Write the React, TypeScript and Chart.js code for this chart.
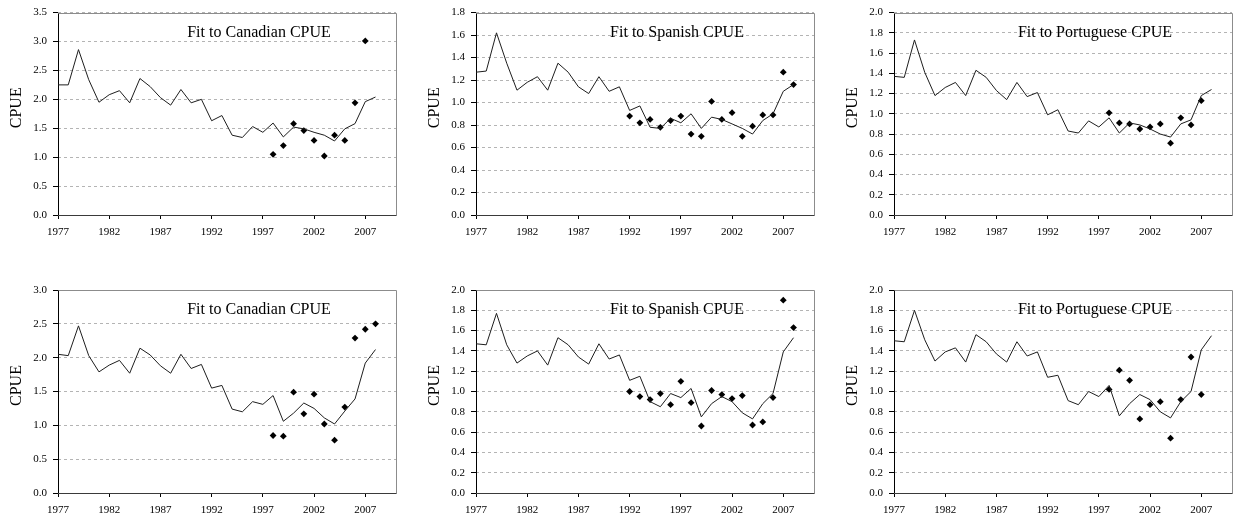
import React, { useEffect, useRef } from 'react';
import { Chart, registerables } from 'chart.js';

Chart.register(...registerables);

// ---- data ----
const fitYears = [1977, 1978, 1979, 1980, 1981, 1982, 1983, 1984, 1985, 1986, 1987, 1988, 1989, 1990, 1991, 1992,
  1993, 1994, 1995, 1996, 1997, 1998, 1999, 2000, 2001, 2002, 2003, 2004, 2005, 2006, 2007, 2008];

const xTickYears = [1977, 1982, 1987, 1992, 1997, 2002, 2007];

// Top row
const canFitA = [2.25, 2.25, 2.86, 2.34, 1.95, 2.08, 2.15, 1.94, 2.36, 2.22, 2.03, 1.90, 2.17, 1.94, 2.00, 1.63,
  1.72, 1.38, 1.34, 1.53, 1.43, 1.59, 1.35, 1.52, 1.49, 1.43, 1.38, 1.28, 1.49, 1.58, 1.96, 2.04];
const canObsYearsA = [1998, 1999, 2000, 2001, 2002, 2003, 2004, 2005, 2006, 2007];
const canObsA = [1.05, 1.20, 1.58, 1.46, 1.29, 1.02, 1.38, 1.29, 1.94, 3.01];

const spaFitA = [1.27, 1.28, 1.62, 1.35, 1.11, 1.18, 1.23, 1.11, 1.35, 1.27, 1.14, 1.08, 1.23, 1.10, 1.14, 0.93,
  0.97, 0.78, 0.77, 0.86, 0.82, 0.90, 0.77, 0.87, 0.85, 0.81, 0.77, 0.72, 0.84, 0.90, 1.10, 1.16];
const spaObsYearsA = [1992, 1993, 1994, 1995, 1996, 1997, 1998, 1999, 2000, 2001, 2002, 2003, 2004, 2005, 2006, 2007, 2008];
const spaObsA = [0.88, 0.82, 0.85, 0.78, 0.84, 0.88, 0.72, 0.70, 1.01, 0.85, 0.91, 0.70, 0.79, 0.89, 0.89, 1.27, 1.16];

const porFitA = [1.37, 1.36, 1.73, 1.41, 1.18, 1.26, 1.31, 1.18, 1.43, 1.36, 1.23, 1.14, 1.31, 1.17, 1.21, 0.99,
  1.04, 0.83, 0.81, 0.93, 0.87, 0.96, 0.81, 0.91, 0.89, 0.85, 0.80, 0.77, 0.90, 0.94, 1.18, 1.24];
const porObsYearsA = [1998, 1999, 2000, 2001, 2002, 2003, 2004, 2005, 2006, 2007];
const porObsA = [1.01, 0.91, 0.90, 0.85, 0.87, 0.90, 0.71, 0.96, 0.89, 1.13];

// Bottom row
const canFitB = [2.05, 2.03, 2.47, 2.03, 1.79, 1.89, 1.96, 1.77, 2.14, 2.04, 1.88, 1.77, 2.05, 1.84, 1.90, 1.55,
  1.59, 1.24, 1.20, 1.35, 1.31, 1.44, 1.06, 1.18, 1.33, 1.25, 1.11, 1.02, 1.21, 1.39, 1.92, 2.12];
const canObsYearsB = [1998, 1999, 2000, 2001, 2002, 2003, 2004, 2005, 2006, 2007, 2008];
const canObsB = [0.85, 0.84, 1.49, 1.17, 1.46, 1.02, 0.78, 1.27, 2.29, 2.42, 2.50];

const spaFitB = [1.47, 1.46, 1.77, 1.46, 1.28, 1.35, 1.40, 1.26, 1.53, 1.46, 1.34, 1.27, 1.47, 1.32, 1.36, 1.11,
  1.15, 0.90, 0.85, 0.98, 0.94, 1.03, 0.75, 0.88, 0.95, 0.90, 0.79, 0.73, 0.88, 0.98, 1.39, 1.53];
const spaObsYearsB = [1992, 1993, 1994, 1995, 1996, 1997, 1998, 1999, 2000, 2001, 2002, 2003, 2004, 2005, 2006, 2007, 2008];
const spaObsB = [1.00, 0.95, 0.92, 0.98, 0.87, 1.10, 0.89, 0.66, 1.01, 0.97, 0.93, 0.96, 0.67, 0.70, 0.94, 1.90, 1.63];

const porFitB = [1.50, 1.49, 1.80, 1.51, 1.30, 1.39, 1.43, 1.29, 1.56, 1.49, 1.37, 1.29, 1.49, 1.35, 1.39, 1.14,
  1.16, 0.91, 0.87, 1.00, 0.95, 1.06, 0.76, 0.88, 0.97, 0.92, 0.80, 0.74, 0.90, 1.00, 1.41, 1.55];
const porObsYearsB = [1998, 1999, 2000, 2001, 2002, 2003, 2004, 2005, 2006, 2007];
const porObsB = [1.02, 1.21, 1.11, 0.73, 0.87, 0.90, 0.54, 0.92, 1.34, 0.97];

const titles = ['Fit to Canadian CPUE', 'Fit to Spanish CPUE', 'Fit to Portuguese CPUE'];
const yAxisTitle = 'CPUE';

type Panel = {
  title: string;
  fit: number[];
  obsYears: number[];
  obs: number[];
  yMax: number;
  yStep: number;
  left: number;
  top: number;
  width: number;
  height: number;
  padTop: number;
  padRight: number;
  xAxisH: number;
};

const panels: Panel[] = [
  { title: titles[0], fit: canFitA, obsYears: canObsYearsA, obs: canObsA, yMax: 3.5, yStep: 0.5,
    left: 0, top: 0, width: 418, height: 262, padTop: 12, padRight: 22, xAxisH: 47 },
  { title: titles[1], fit: spaFitA, obsYears: spaObsYearsA, obs: spaObsA, yMax: 1.8, yStep: 0.2,
    left: 418, top: 0, width: 418, height: 262, padTop: 12, padRight: 22, xAxisH: 47 },
  { title: titles[2], fit: porFitA, obsYears: porObsYearsA, obs: porObsA, yMax: 2.0, yStep: 0.2,
    left: 836, top: 0, width: 408, height: 262, padTop: 12, padRight: 12, xAxisH: 47 },
  { title: titles[0], fit: canFitB, obsYears: canObsYearsB, obs: canObsB, yMax: 3.0, yStep: 0.5,
    left: 0, top: 262, width: 418, height: 263, padTop: 28, padRight: 22, xAxisH: 32 },
  { title: titles[1], fit: spaFitB, obsYears: spaObsYearsB, obs: spaObsB, yMax: 2.0, yStep: 0.2,
    left: 418, top: 262, width: 418, height: 263, padTop: 28, padRight: 22, xAxisH: 32 },
  { title: titles[2], fit: porFitB, obsYears: porObsYearsB, obs: porObsB, yMax: 2.0, yStep: 0.2,
    left: 836, top: 262, width: 408, height: 263, padTop: 28, padRight: 12, xAxisH: 32 },
];

const SERIF = "'Liberation Serif', 'Times New Roman', serif";

function PanelChart({ p }: { p: Panel }) {
  const ref = useRef<HTMLCanvasElement | null>(null);
  useEffect(() => {
    if (!ref.current) return;
    const framePlugin = {
      id: 'frame',
      beforeDatasetsDraw(chart: any) {
        const { ctx, chartArea: a } = chart;
        ctx.save();
        ctx.setLineDash([]);
        ctx.lineWidth = 1;
        ctx.strokeStyle = '#8c8c8c';
        ctx.beginPath();
        ctx.moveTo(Math.round(a.left) + 0.5, Math.round(a.top) + 0.5);
        ctx.lineTo(Math.round(a.right) + 0.5, Math.round(a.top) + 0.5);
        ctx.lineTo(Math.round(a.right) + 0.5, Math.round(a.bottom) + 0.5);
        ctx.stroke();
        ctx.strokeStyle = '#000';
        ctx.beginPath();
        ctx.moveTo(Math.round(a.left) + 0.5, Math.round(a.top) + 0.5);
        ctx.lineTo(Math.round(a.left) + 0.5, Math.round(a.bottom) + 0.5);
        ctx.stroke();
        ctx.strokeStyle = '#3a3a3a';
        ctx.beginPath();
        ctx.moveTo(Math.round(a.left) + 0.5, Math.round(a.bottom) + 0.5);
        ctx.lineTo(Math.round(a.right) + 0.5, Math.round(a.bottom) + 0.5);
        ctx.stroke();
        ctx.restore();
      },
      afterDraw(chart: any) {
        const { ctx, chartArea: a } = chart;
        ctx.save();
        ctx.fillStyle = '#000';
        ctx.font = `16px ${SERIF}`;
        ctx.textAlign = 'center';
        ctx.textBaseline = 'middle';
        ctx.fillText(p.title, a.left + 201, a.top + 20);
        ctx.translate(17, (a.top + a.bottom) / 2 - 6);
        ctx.rotate(-Math.PI / 2);
        ctx.fillText(yAxisTitle, 0, 0);
        ctx.restore();
      },
    };

    const chart = new Chart(ref.current, {
      type: 'scatter',
      data: {
        datasets: [
          {
            label: 'fit',
            data: fitYears.map((y, i) => ({ x: y, y: p.fit[i] })),
            showLine: true,
            borderColor: '#1e1e1e',
            borderWidth: 1,
            pointRadius: 0,
            pointHoverRadius: 0,
            fill: false,
            tension: 0,
          },
          {
            label: 'obs',
            data: p.obsYears.map((y, i) => ({ x: y, y: p.obs[i] })),
            showLine: false,
            pointStyle: 'rectRot',
            pointRadius: 3.4,
            backgroundColor: '#000',
            borderColor: '#000',
            borderWidth: 0,
          },
        ],
      },
      options: {
        animation: false,
        responsive: false,
        devicePixelRatio: 1,
        events: [],
        layout: { padding: { top: p.padTop, right: p.padRight, left: 0, bottom: 0 } },
        plugins: { legend: { display: false }, tooltip: { enabled: false }, title: { display: false } },
        scales: {
          x: {
            type: 'linear',
            min: 1977,
            max: 2010,
            afterBuildTicks: (scale: any) => {
              scale.ticks = xTickYears.map((v) => ({ value: v }));
            },
            afterFit: (scale: any) => {
              scale.height = p.xAxisH;
            },
            ticks: {
              autoSkip: false,
              maxRotation: 0,
              padding: 7,
              color: '#000',
              font: { family: SERIF, size: 11 },
              callback: (v: any) => String(v),
            },
            grid: {
              drawOnChartArea: false,
              drawTicks: true,
              tickLength: 4,
              tickColor: '#000',
            },
            border: { display: false },
          },
          y: {
            type: 'linear',
            min: 0,
            max: p.yMax,
            afterFit: (scale: any) => {
              scale.width = 58;
            },
            ticks: {
              stepSize: p.yStep,
              padding: 6,
              color: '#000',
              font: { family: SERIF, size: 11 },
              callback: (v: any) => Number(v).toFixed(1),
            },
            grid: {
              color: '#b4b4b4',
              lineWidth: 1,
              drawTicks: true,
              tickLength: 5,
              tickColor: '#000',
              tickBorderDash: [],
              borderDash: [3, 3],
            } as any,
            border: { display: false, dash: [3, 3] },
          },
        },
      } as any,
      plugins: [framePlugin],
    });
    return () => chart.destroy();
  }, [p]);

  return (
    <canvas
      ref={ref}
      width={p.width}
      height={p.height}
      style={{ position: 'absolute', left: p.left, top: p.top, width: p.width, height: p.height, display: 'block' }}
    />
  );
}

export default function App() {
  return (
    <div style={{ position: 'fixed', left: 0, top: 0, width: 1244, height: 525, background: '#fff', overflow: 'hidden' }}>
      {panels.map((p, i) => (
        <PanelChart key={i} p={p} />
      ))}
    </div>
  );
}
